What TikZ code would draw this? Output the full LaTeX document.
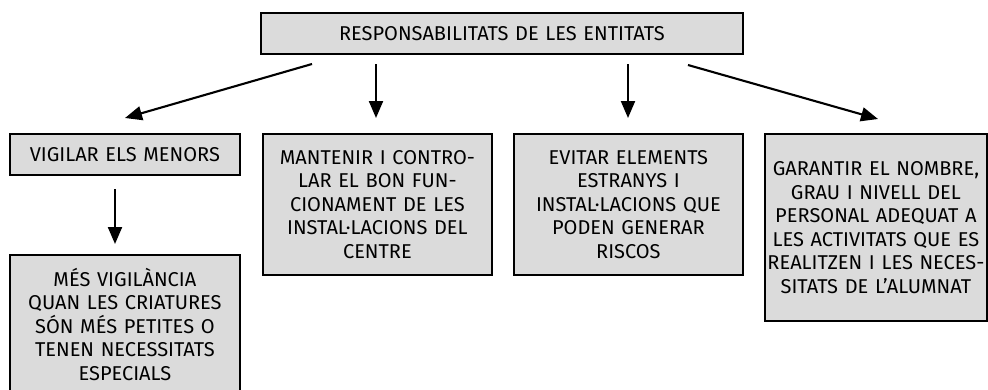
\documentclass[tikz,border=0pt]{standalone}
\usepackage{fontspec}
\setmainfont{Fira Sans}
\usetikzlibrary{arrows.meta}
\begin{document}
\begin{tikzpicture}[x=1pt,y=-1pt,
  box/.style={draw=black, line width=1.8pt, fill=black!14, inner sep=0pt,
    align=center, font=\fontsize{20}{23.5}\selectfont, anchor=north west, text=black},
  arr/.style={-{Triangle[length=17pt,width=14pt]}, line width=2.1pt}]
\useasboundingbox (0,0) rectangle (988,389);
\begin{scope}
\clip (0,0) rectangle (988,389);
\node[box, minimum width=482pt, minimum height=41pt, text width=470pt] (top) at (260,12) {RESPONSABILITATS DE LES ENTITATS};
\node[box, minimum width=230pt, minimum height=41pt, text width=224pt] (vig) at (9,133) {VIGILAR ELS MENORS};
\node[box, minimum width=230pt, minimum height=139pt, text width=224pt] (mes) at (9,254) {MÉS VIGILÀNCIA\\QUAN LES CRIATURES\\SÓN MÉS PETITES O\\TENEN NECESSITATS\\ESPECIALS};
\node[box, minimum width=229pt, minimum height=141pt, text width=224pt] (man) at (262,133) {MANTENIR I CONTRO-\\LAR EL BON FUN-\\CIONAMENT DE LES\\INSTAL·LACIONS DEL\\CENTRE};
\node[box, minimum width=229pt, minimum height=141pt, text width=224pt] (evi) at (513,133) {EVITAR ELEMENTS\\ESTRANYS I\\INSTAL·LACIONS QUE\\PODEN GENERAR\\RISCOS};
\node[box, minimum width=222pt, minimum height=187pt, text width=218pt] (gar) at (764,133) {GARANTIR EL NOMBRE,\\GRAU I NIVELL DEL\\PERSONAL ADEQUAT A\\LES ACTIVITATS QUE ES\\REALITZEN I LES NECES-\\SITATS DE L’ALUMNAT};
\end{scope}
\coordinate (s1) at (312,64);
\coordinate (e1) at (125,118);
\coordinate (s2) at (376,64);
\coordinate (e2) at (376,118);
\coordinate (s3) at (628,64);
\coordinate (e3) at (628,118);
\coordinate (s4) at (688,65);
\coordinate (e4) at (878,119);
\coordinate (s5) at (115,189);
\coordinate (e5) at (115,244);
\draw[arr] (s1) -- (e1);
\draw[arr] (s2) -- (e2);
\draw[arr] (s3) -- (e3);
\draw[arr] (s4) -- (e4);
\draw[arr] (s5) -- (e5);
\end{tikzpicture}
\end{document}
